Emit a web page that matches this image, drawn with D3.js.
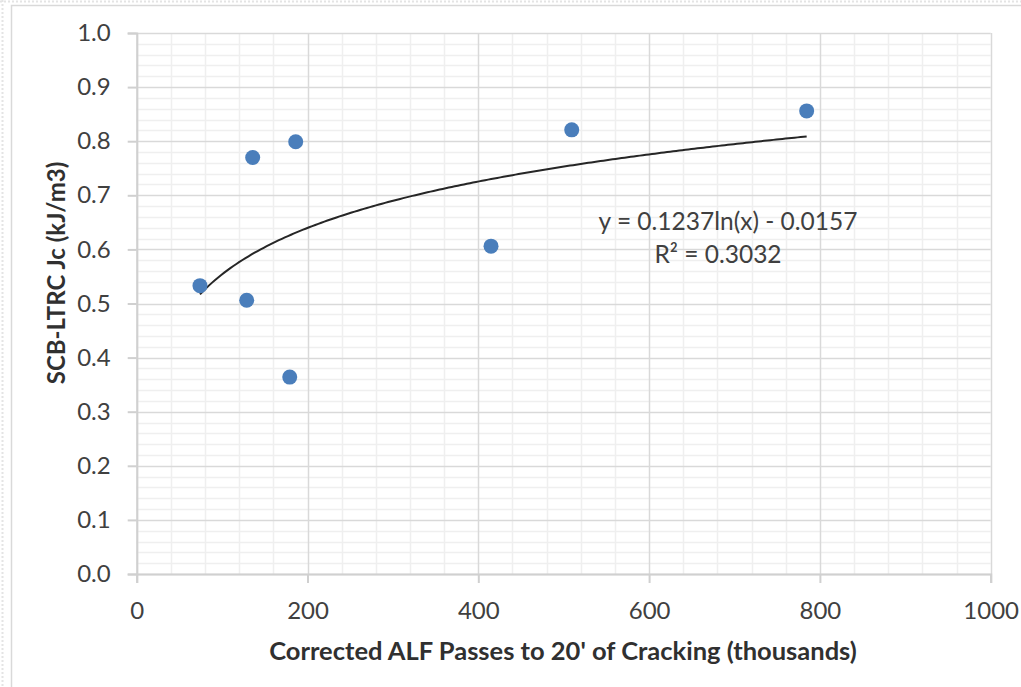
<!DOCTYPE html>
<html>
<head>
<meta charset="utf-8">
<script src="https://cdn.jsdelivr.net/npm/d3@7"></script>
<style>
  html, body { margin: 0; padding: 0; background: #fff; }
  svg { display: block; }
  text { font-family: Lato, "Open Sans", sans-serif; }
</style>
</head>
<body>
<svg id="chart" width="1021" height="687"></svg>
<script>
// ---- data ----
const passesK = [74.1, 128.8, 135.8, 179.2, 186.2, 414.9, 509.4, 784.5];
const jcValues = [0.533, 0.506, 0.770, 0.364, 0.799, 0.606, 0.821, 0.856];
const trendCoef = [0.1237, -0.0157]; // y = a ln(x) + b
const xTicks = [0, 200, 400, 600, 800, 1000];
const yTicks = [0.0, 0.1, 0.2, 0.3, 0.4, 0.5, 0.6, 0.7, 0.8, 0.9, 1.0];
const xTitle = "Corrected ALF Passes to 20' of Cracking (thousands)";
const yTitle = "SCB-LTRC Jc (kJ/m3)";
const eqText = "y = 0.1237ln(x) - 0.0157";
const r2Text = "R² = 0.3032";

(function () {
const svg = d3.select("#chart");
const W = 1021, H = 687;
const pLeft = 136.7, pRight = 990.7, pTop = 33, pBottom = 574;

// chart area borders
svg.append("line").attr("x1", 2.5).attr("x2", 2.5).attr("y1", 0).attr("y2", H)
  .attr("stroke", "#e4e4e4").attr("stroke-width", 2).attr("stroke-dasharray", "2,2");
svg.append("line").attr("x1", 0).attr("x2", W).attr("y1", 1.5).attr("y2", 1.5)
  .attr("stroke", "#e4e4e4").attr("stroke-width", 2).attr("stroke-dasharray", "2,2");
svg.append("rect").attr("x", 11.5).attr("y", 5.5).attr("width", W + 20).attr("height", H + 20)
  .attr("fill", "none").attr("stroke", "#d9d9d9").attr("stroke-width", 1.5);

const x = d3.scaleLinear().domain([0, 1000]).range([pLeft, pRight]);
const y = d3.scaleLinear().domain([0, 1]).range([pBottom, pTop]);

// minor gridlines
const xMinor = d3.range(0, 1001, 40).filter(v => v % 200 !== 0);
const yMinor = d3.range(0, 51).map(i => i * 0.02).filter((v, i) => i % 5 !== 0);
const g = svg.append("g");
g.selectAll(".xm").data(xMinor).enter().append("line")
  .attr("x1", d => Math.round(x(d)) + 0.5).attr("x2", d => Math.round(x(d)) + 0.5)
  .attr("y1", pTop).attr("y2", pBottom).attr("stroke", "#efefef").attr("stroke-width", 1.5);
g.selectAll(".ym").data(yMinor).enter().append("line")
  .attr("y1", d => Math.round(y(d)) + 0.5).attr("y2", d => Math.round(y(d)) + 0.5)
  .attr("x1", pLeft).attr("x2", pRight).attr("stroke", "#efefef").attr("stroke-width", 1.5);

// major gridlines
g.selectAll(".xM").data(xTicks).enter().append("line")
  .attr("x1", d => Math.round(x(d)) + 0.5).attr("x2", d => Math.round(x(d)) + 0.5)
  .attr("y1", pTop).attr("y2", pBottom).attr("stroke", "#d9d9d9").attr("stroke-width", 1.5);
g.selectAll(".yM").data(yTicks).enter().append("line")
  .attr("y1", d => Math.round(y(d)) + 0.5).attr("y2", d => Math.round(y(d)) + 0.5)
  .attr("x1", pLeft).attr("x2", pRight).attr("stroke", "#d9d9d9").attr("stroke-width", 1.5);

// axes
const xAxis = d3.axisBottom(x).tickValues(xTicks).tickSize(9).tickPadding(19).tickFormat(d3.format("d"));
const yAxis = d3.axisLeft(y).tickValues(yTicks).tickSize(9).tickPadding(17).tickFormat(d3.format(".1f"));
const gx = svg.append("g").attr("transform", `translate(0,${pBottom})`).call(xAxis);
const gy = svg.append("g").attr("transform", `translate(${pLeft},0)`).call(yAxis);
[gx, gy].forEach(a => {
  a.select(".domain").attr("stroke", "#d0d0d0").attr("stroke-width", 2);
  a.selectAll(".tick line").attr("stroke", "#d0d0d0").attr("stroke-width", 2);
  a.selectAll(".tick text").attr("fill", "#404040").style("font-size", "24px")
    .style("font-family", "Lato, sans-serif");
});

// trendline
const xs = d3.extent(passesK);
const trendPts = d3.range(0, 201).map(i => {
  const xv = xs[0] + (xs[1] - xs[0]) * i / 200;
  return [xv, trendCoef[0] * Math.log(xv) + trendCoef[1]];
});
svg.append("path").datum(trendPts)
  .attr("d", d3.line().x(d => x(d[0])).y(d => y(d[1])))
  .attr("fill", "none").attr("stroke", "#262626").attr("stroke-width", 2);

// points
svg.selectAll(".pt").data(passesK.map((v, i) => [v, jcValues[i]])).enter().append("circle")
  .attr("cx", d => x(d[0])).attr("cy", d => y(d[1])).attr("r", 7.5)
  .attr("fill", "#4a7ebb");

// equation labels
svg.append("text").attr("x", 728).attr("y", 230).attr("text-anchor", "middle")
  .attr("fill", "#404040").style("font-size", "24.5px").text(eqText);
svg.append("text").attr("x", 718).attr("y", 263).attr("text-anchor", "middle")
  .attr("fill", "#404040").style("font-size", "24.5px").text(r2Text);

// axis titles
svg.append("text").attr("x", 563).attr("y", 660).attr("text-anchor", "middle")
  .attr("fill", "#303030").style("font-size", "25.5px").style("font-weight", "bold").text(xTitle);
svg.append("text").attr("transform", "translate(65,273) rotate(-90)").attr("text-anchor", "middle")
  .attr("fill", "#303030").style("font-size", "24px").style("font-weight", "bold").text(yTitle);
})();
</script>
</body>
</html>
